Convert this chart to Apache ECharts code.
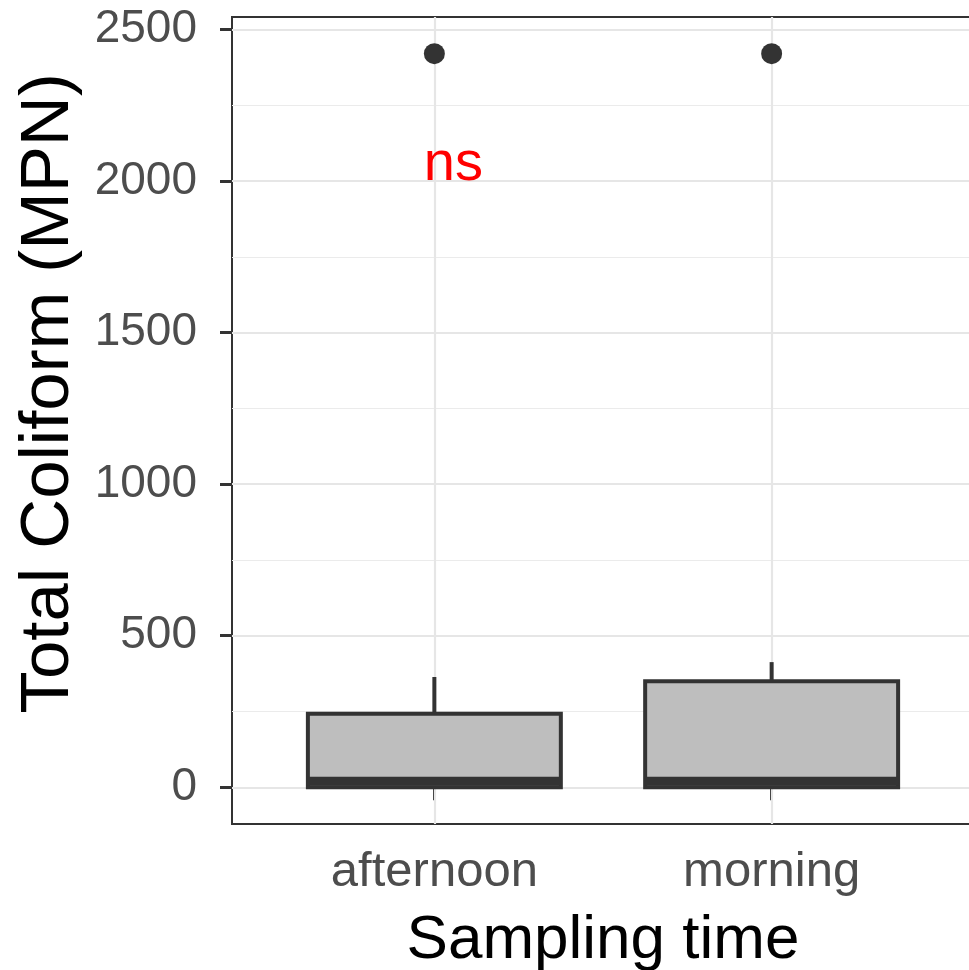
<!DOCTYPE html>
<html>
<head>
<meta charset="utf-8">
<script src="https://cdn.jsdelivr.net/npm/echarts@6/dist/echarts.min.js"></script>
<style>html,body{margin:0;padding:0;background:#fff;}#c{width:969px;height:970px;}</style>
</head>
<body>
<div id="c"></div>
<script>
const categories = ['afternoon', 'morning'];
const whiskerLow = [0, 0];
const q1 = [0, 0];
const medians = [20, 20];
const q3 = [243, 350];
const whiskerHigh = [364, 413];
const outliers = [2420, 2420];
const yTicks = [0, 500, 1000, 1500, 2000, 2500];
const yMinor = [250, 750, 1250, 1750, 2250];
const annotationText = 'ns';
const annotationValue = 2054;

const FONT = '"Liberation Sans", Arial, Helvetica, sans-serif';
const chart = echarts.init(document.getElementById('c'));

const boxData = categories.map((c, i) => [i + 1, whiskerLow[i], q1[i], medians[i], q3[i], whiskerHigh[i]]);
const outlierData = categories.map((c, i) => [i + 1, outliers[i]]);

const gridLines = []
  .concat(yMinor.map(v => ({ yAxis: v, lineStyle: { color: '#EBEBEB', width: 1.2, type: 'solid' } })))
  .concat(yTicks.map(v => ({ yAxis: v, lineStyle: { color: '#E6E6E6', width: 2.2, type: 'solid' } })))
  .concat(categories.map((c, i) => ({ xAxis: i + 1, lineStyle: { color: '#E6E6E6', width: 2.2, type: 'solid' } })));

chart.setOption({
  animation: false,
  backgroundColor: '#ffffff',
  textStyle: { fontFamily: FONT },
  grid: {
    left: 232, top: 17, right: -5, bottom: 146,
    show: true, borderColor: '#333333', borderWidth: 2, backgroundColor: 'transparent',
    outerBoundsMode: 'none', containLabel: false
  },
  xAxis: {
    type: 'value', min: 0.4, max: 2.6,
    axisLine: { show: false },
    splitLine: { show: false },
    axisTick: { show: true, customValues: [1, 2], length: 13, lineStyle: { color: '#333333', width: 3 } },
    axisLabel: {
      customValues: [1, 2], margin: 24, fontSize: 49, color: '#4D4D4D', fontFamily: FONT,
      formatter: v => categories[Math.round(v) - 1]
    },
    name: 'Sampling time', nameLocation: 'middle', nameGap: 86,
    nameTextStyle: { fontSize: 62, color: '#000000', fontFamily: FONT }
  },
  yAxis: {
    type: 'value', min: -121, max: 2541,
    axisLine: { show: false },
    splitLine: { show: false },
    axisTick: { show: true, customValues: yTicks, length: 12, lineStyle: { color: '#333333', width: 3 } },
    axisLabel: { customValues: yTicks, margin: 35, fontSize: 46, color: '#4D4D4D', fontFamily: FONT,
      formatter: v => String(v) },
    name: 'Total Coliform (MPN)', nameLocation: 'middle', nameGap: 140,
    nameTextStyle: { fontSize: 69, color: '#000000', fontFamily: FONT, padding: [0, 0, 0, 54] }
  },
  series: [
    {
      type: 'line', data: [], z: 1, silent: true,
      markLine: { silent: true, z: 1, symbol: 'none', label: { show: false }, data: gridLines, animation: false }
    },
    {
      type: 'custom', z: 3, data: boxData,
      renderItem: function (params, api) {
        const x = api.value(0);
        const lo = api.coord([x, api.value(1)]);
        const b = api.coord([x, api.value(2)]);
        const m = api.coord([x, api.value(3)]);
        const t = api.coord([x, api.value(4)]);
        const hi = api.coord([x, api.value(5)]);
        const w = api.size([0.75, 0])[0];
        const stroke = '#333333';
        return {
          type: 'group',
          children: [
            { type: 'line', shape: { x1: t[0], y1: t[1], x2: hi[0], y2: hi[1] }, style: { stroke: stroke, lineWidth: 4 } },
            { type: 'line', shape: { x1: b[0], y1: b[1], x2: lo[0], y2: lo[1] }, style: { stroke: stroke, lineWidth: 4 } },
            { type: 'rect', shape: { x: t[0] - w / 2, y: t[1], width: w, height: b[1] - t[1] }, style: { fill: '#BEBEBE', stroke: stroke, lineWidth: 4 } },
            { type: 'line', shape: { x1: m[0] - w / 2, y1: m[1], x2: m[0] + w / 2, y2: m[1] }, style: { stroke: stroke, lineWidth: 9 } }
          ]
        };
      }
    },
    {
      type: 'scatter', z: 4, data: outlierData, symbol: 'circle', symbolSize: 21,
      itemStyle: { color: '#333333', opacity: 1 }
    },
    {
      type: 'scatter', z: 5, data: [[1, annotationValue]], symbolSize: 0,
      itemStyle: { opacity: 1 },
      label: {
        show: true, position: 'inside', formatter: annotationText, offset: [19, 0],
        color: '#FF0000', opacity: 1, fontSize: 56, fontFamily: FONT
      }
    }
  ]
});
</script>
</body>
</html>
